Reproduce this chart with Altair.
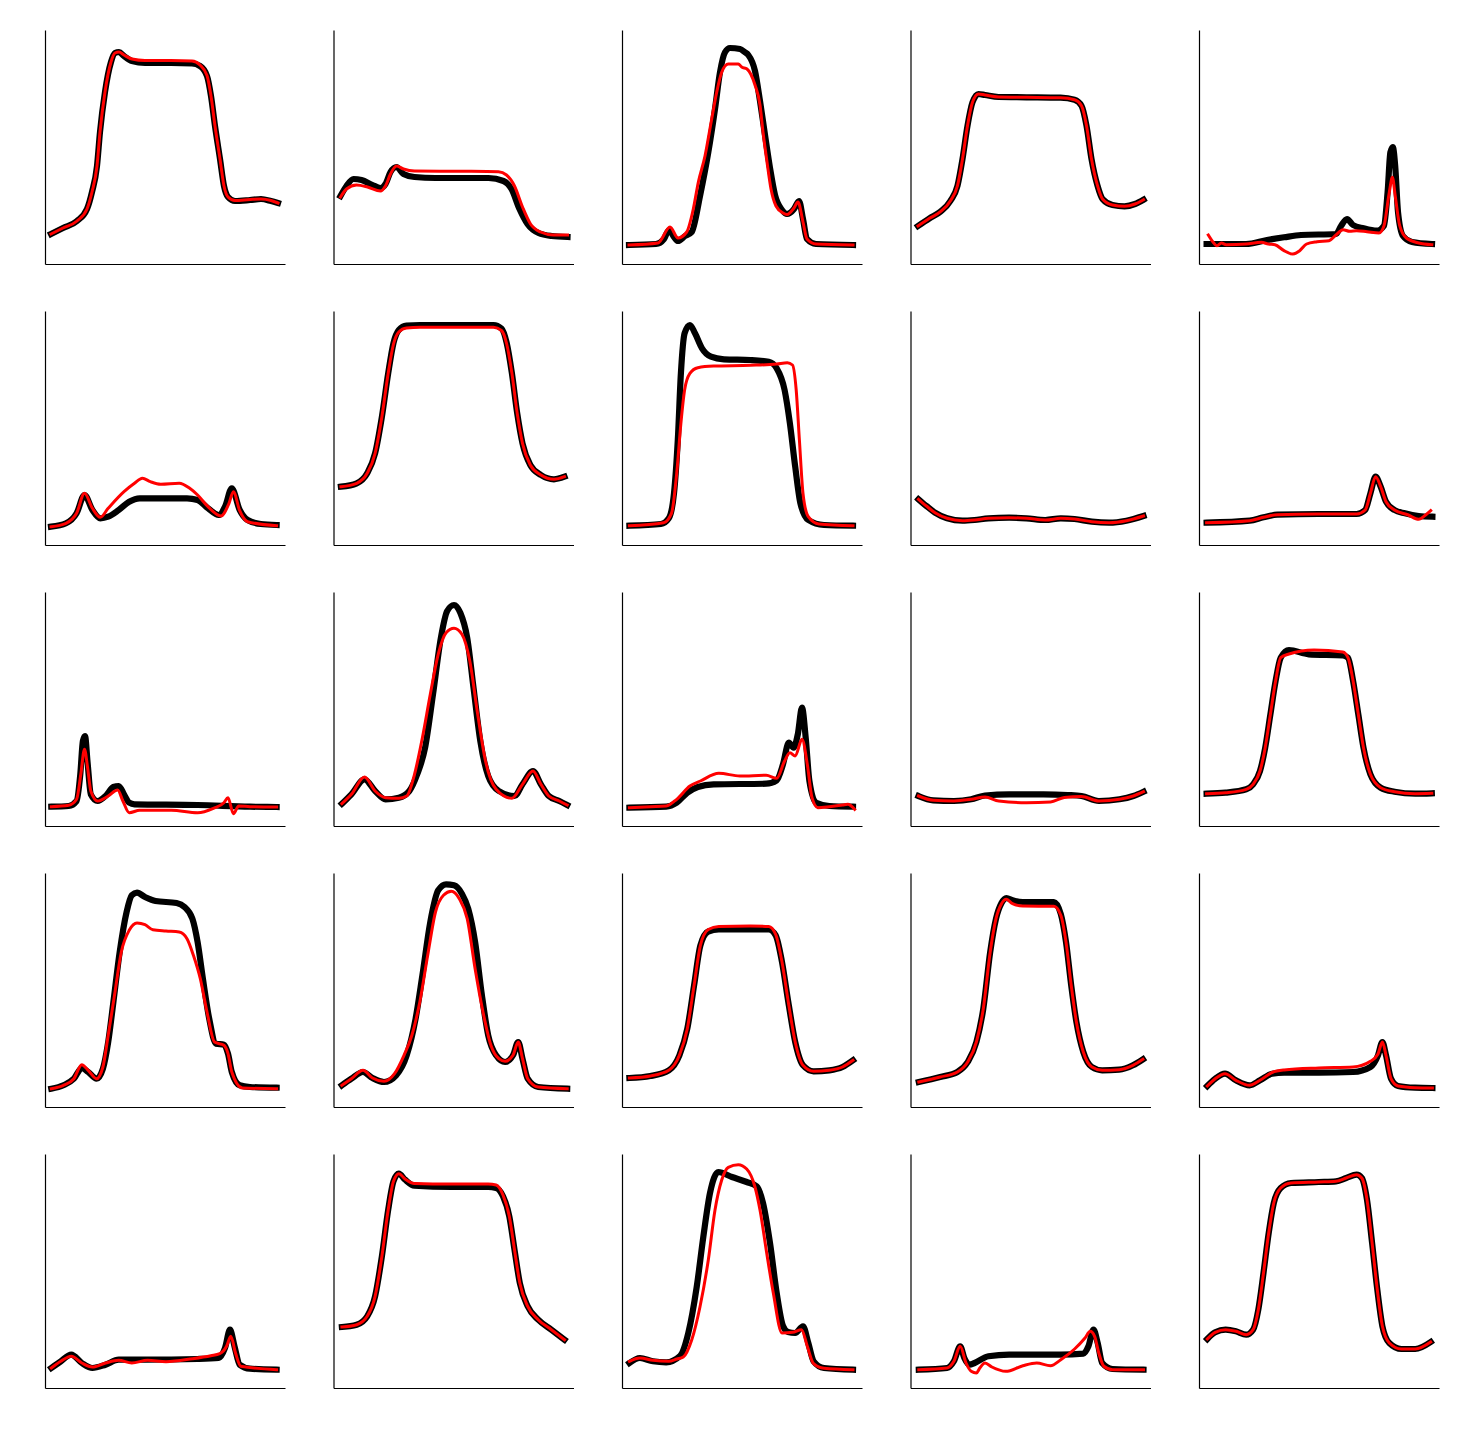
import altair as alt
import pandas as pd

# ---- Row 1 ----
p01_x = [6, 18, 32, 42, 47, 52, 55, 60, 66, 70, 74, 79, 87, 100, 126, 147, 155, 162, 166, 170, 175, 179, 183, 190, 205, 216, 226, 233]
p01_black = [30, 36, 43, 55, 72, 98, 132, 172, 202, 211, 212, 208, 203, 201, 201, 200.5, 198, 188, 168, 138, 105, 78, 67, 63, 64, 65, 63, 61]
p01_red = [30, 36, 43, 55, 72, 98, 132, 172, 202, 211, 212, 209, 205, 203.5, 203.5, 203, 199, 188.5, 168, 138, 105, 78, 67, 63.5, 64.5, 65, 63.5, 61]

p02_bx = [7, 13, 20, 28, 39, 47, 52, 57, 63, 70, 81, 102, 155, 170, 178, 186, 194, 205, 218, 234]
p02_by = [68, 78, 85, 84, 79, 76, 80, 92, 97, 90, 87, 86, 86, 83, 75, 55, 40, 31, 28, 27]
p02_rx = [7, 13, 23, 34, 47, 52, 57, 63, 70, 81, 128, 165, 173, 181, 189, 197, 207, 220, 234]
p02_ry = [67, 75, 79, 77, 73, 78, 90, 98, 95, 93, 92.7, 92.3, 89, 78, 57, 40, 32, 29, 29]

p03_bx = [7, 34, 42, 47, 52, 56, 63, 69.7, 78, 86.3, 93, 98, 103, 108, 118, 123, 126.3, 133, 138, 143, 148, 153, 160, 165, 172, 177, 181, 185, 194, 231]
p03_by = [19, 20, 25, 34, 27, 23, 28, 32, 68, 111.7, 155, 191.7, 211.7, 216, 215, 211.7, 209, 193, 163, 129, 96, 69, 54, 50, 55, 63, 45, 25, 20, 19]
p03_rx = [7, 36, 48, 56, 64.7, 71.3, 76.3, 83, 89.7, 94.7, 99.7, 106.3, 116.3, 119.7, 125, 133, 138, 141, 145, 149, 154, 161, 165, 172, 176, 181, 185, 194, 231]
p03_ry = [19, 21, 37, 26, 32, 55, 81.7, 108, 145, 171.7, 191.7, 200, 200, 197, 195, 179, 159, 132, 102, 75, 58, 51, 49.5, 56, 62, 42, 25, 20, 19]

p04_x = [7.5, 19, 30, 40, 47, 52, 57, 62, 68, 74.5, 88, 116, 150, 164, 171, 176, 181, 187, 192, 202, 214, 224.5, 233]
p04_y = [38, 45.7, 52.3, 63.3, 78.3, 105, 138.3, 161.7, 170, 169, 167, 166.7, 166.3, 164.3, 158.3, 138.3, 105, 78.3, 65, 59, 57.7, 60, 64.3]

p05_bx = [7.6, 47, 68, 85, 102, 137, 142, 148, 154, 164.5, 178, 185, 188.6, 191.4, 193.8, 196.2, 199, 204, 213, 233]
p05_by = [20, 20, 24, 26.7, 29, 30, 38, 45, 39, 35.7, 33.3, 38.3, 71.7, 111.7, 117, 98, 52, 28, 22, 20]
p05_rx = [9.3, 13.8, 18, 22.4, 27.2, 47, 62.4, 69.3, 76, 85, 93.8, 100.7, 107.6, 118, 130, 137, 144, 150.7, 157.6, 168, 180, 185, 190.3, 193.4, 196.2, 200.7, 207.6, 219.7, 232.8]
p05_ry = [29, 22.3, 18.3, 21, 19.3, 20, 21.7, 20, 19.3, 13.3, 10, 13.3, 20, 22.3, 23.3, 29, 34.3, 32.7, 33.3, 32.3, 31, 38.3, 71.7, 86.7, 68.3, 38.3, 25.7, 21, 19.3]

# ---- Row 2 ----
p06_bx = [6, 21, 31.6, 39.5, 47.4, 55.3, 63.2, 73.7, 84.2, 94.7, 142, 152.6, 163, 173.7, 180, 186.8, 194.7, 202.6, 215.8, 231.6]
p06_by = [18.3, 21.7, 31.7, 50, 35, 26.7, 28.3, 35, 43.3, 46.7, 46.7, 45, 36.7, 30, 38.3, 56.7, 35, 25, 21, 20]
p06_rx = [6, 21, 31.6, 39.5, 47.4, 55.3, 63.2, 79, 89.5, 97.4, 105.3, 115.8, 134.2, 144.7, 152.6, 163, 176, 184, 188.4, 194.7, 202.6, 231.6]
p06_ry = [18.3, 21.7, 31.7, 51.7, 36.7, 27.7, 36.7, 53.3, 61.7, 66.7, 63.3, 60.7, 61.7, 56.7, 50, 38.3, 29, 41.7, 53.3, 34.3, 23.3, 19.3]

p07_x = [7.4, 23.2, 33.7, 41.6, 48.4, 54.7, 60, 65.3, 73, 86.3, 160, 168, 173.2, 178.4, 183.7, 189, 196.8, 207.4, 220.5, 231]
p07_black = [58.3, 61.7, 71.7, 91.7, 128.3, 171.7, 202, 215, 219.5, 220, 220, 216.5, 202, 171.7, 131.7, 101.7, 80, 70, 65.7, 68.3]
p07_red = [58.3, 61.7, 71.7, 91.7, 128.3, 171.7, 201, 213, 217, 217.7, 217.7, 214.5, 201, 171.7, 131.7, 101.7, 80, 70, 65.7, 68.3]

p08_bx = [7.4, 39, 46.8, 52, 55.8, 58.9, 62.6, 67.9, 73, 80, 89, 102, 128.4, 146.8, 154.7, 162.6, 167.9, 173.2, 178.4, 186.3, 202, 231]
p08_by = [19.3, 21, 26.7, 51.7, 105, 171.7, 211.7, 220, 211.7, 196.7, 188.3, 185.7, 185, 183.3, 176.7, 155, 121.7, 78.3, 41.7, 25, 20, 19.3]
p08_rx = [7.4, 41.6, 49.5, 54.7, 58.9, 62.6, 67.9, 75.8, 91.6, 128.4, 154.7, 165.3, 170.5, 174.2, 177.4, 181, 186.3, 196.8, 231]
p08_ry = [19.3, 22.3, 31.7, 71.7, 121.7, 155, 171.7, 177.3, 179, 179.7, 181, 182.3, 180, 155, 105, 51.7, 28.3, 21, 19.3]

p09_x = [8, 15.9, 24.5, 36.6, 52, 64, 78, 98.6, 115.9, 134.8, 150.3, 164, 181.4, 198.6, 215.9, 233]
p09_y = [45.7, 39, 32.3, 26.7, 24.3, 25, 26.7, 27.3, 26.7, 25, 26.7, 26, 23.3, 22.3, 24.3, 29]

p10_bx = [7.6, 50.7, 64.5, 78.3, 119.7, 157.6, 166.2, 171.4, 176.6, 181.7, 187, 195.5, 205.9, 219.7, 233.4]
p10_by = [22.3, 24.3, 27.7, 30.3, 31, 31, 35, 51.7, 68.3, 58.3, 43.3, 35, 31.7, 29, 28.3]
p10_rx = [7.6, 50.7, 64.5, 78.3, 119.7, 157.6, 166.2, 171.4, 176.6, 181.7, 187, 195.5, 209.3, 219.7, 226.6, 231.7]
p10_ry = [22.3, 24.3, 27.7, 30.3, 31, 31, 35, 51.7, 68.3, 58.3, 43.3, 35, 30, 25.7, 30, 34.3]

# ---- Row 3 ----
p11_bx = [6.3, 23.7, 31.6, 35.3, 37.9, 40, 42.6, 45.8, 52.6, 60.5, 68.4, 73.7, 79, 84.2, 89.5, 152.6, 205, 231.6]
p11_by = [19.3, 20, 25, 51.7, 85, 90, 63.3, 31.7, 25, 30, 39, 40, 31.7, 23.3, 21.7, 21, 19.3, 19]
p11_rx = [6.3, 23.7, 31.6, 35.8, 39.5, 42.6, 45.8, 52.6, 63.2, 72.6, 77.9, 84.2, 94.7, 126.3, 152.6, 168.4, 178.9, 183, 188.4, 193.7, 205, 231.6]
p11_ry = [19.3, 20.7, 26.7, 51.7, 76.7, 58.3, 35, 25, 30, 36, 25, 13.3, 15.7, 15.7, 13.3, 17.7, 23.3, 28.3, 12.3, 20, 19.3, 19]

p12_bx = [8.4, 17.9, 31, 41.6, 52, 65.3, 75.8, 83.7, 91.6, 99.5, 107.4, 113.7, 120.5, 126.8, 133.7, 140, 146.8, 154.7, 165.3, 181, 189, 199.5, 207.4, 215.3, 225.8, 233.7]
p12_by = [22.3, 31.7, 46.7, 35, 26.7, 28.3, 35, 51.7, 78.3, 131.7, 188.3, 215, 221, 213.3, 188.3, 138.3, 85, 50, 35, 30, 41.7, 55, 41.7, 30, 25, 21]
p12_rx = [8.4, 17.9, 31, 41.6, 52, 65.3, 73.2, 81, 88.9, 96.8, 104.7, 112.6, 120.5, 128.4, 136.3, 144.2, 152, 162.6, 178.4, 189, 199.5, 207.4, 215.3, 225.8, 233.7]
p12_ry = [22.3, 31.7, 49, 35, 28.3, 27.7, 30, 51.7, 88.3, 131.7, 171.7, 193.3, 197.7, 191.7, 165, 111.7, 65, 36.7, 27.7, 41.7, 55, 41.7, 30, 25, 21]

p13_bx = [7.4, 44.2, 54.7, 65.3, 75.8, 91.6, 144.2, 154.7, 161, 166.8, 171.6, 175.8, 180, 183.7, 187.4, 194.2, 207.4, 231]
p13_by = [18.3, 19.3, 23.3, 33.3, 39, 41.7, 42.3, 45.7, 61.7, 83.3, 78.3, 91.7, 118.3, 88.3, 45, 23.3, 20, 19.3]
p13_rx = [7.4, 28.4, 44.2, 54.7, 67.9, 78.4, 96.8, 117.9, 144.2, 154.7, 162.6, 167.9, 173.2, 180, 185.3, 190, 195.8, 207.4, 220.5, 225.8, 232.6]
p13_ry = [18.3, 19.3, 20, 26.7, 40, 45, 52.7, 50, 50.7, 47.7, 65, 73.3, 70, 86.7, 61.7, 28.3, 18.3, 19.3, 21, 21.7, 16.7]

p14_bx = [8, 22.8, 43.4, 60.7, 74.5, 98.6, 133, 157.2, 171, 188.3, 209, 222.8, 233]
p14_by = [30, 25.7, 25, 26.7, 30.5, 31.7, 31.7, 31, 30, 25, 26.7, 30, 34.3]
p14_rx = [8, 22.8, 43.4, 60.7, 74.5, 88.3, 115.9, 140, 153.8, 171, 188.3, 209, 222.8, 233]
p14_ry = [30, 25.7, 25, 26.7, 29, 25, 23.3, 24, 28.5, 29.5, 25, 26.7, 30, 34.3]

p15_bx = [7.6, 26.6, 47.2, 54.1, 61, 66.2, 71.4, 76.6, 81.7, 90, 109.7, 144, 149, 154.1, 159.3, 164.5, 171.4, 181.7, 195.5, 216.2, 232.8]
p15_by = [32.3, 33.3, 36.7, 41.7, 55, 78.3, 111.7, 145, 168.3, 176, 171.7, 170.7, 168.3, 145, 111.7, 78.3, 51.7, 38.3, 34.3, 32.3, 32.7]
p15_rx = [7.6, 26.6, 47.2, 54.1, 61, 66.2, 71.4, 76.6, 81.7, 90, 115, 143.8, 149, 154.1, 159.3, 164.5, 171.4, 181.7, 195.5, 216.2, 232.8]
p15_ry = [32.3, 33.3, 36.7, 41.7, 55, 78.3, 111.7, 145, 168.3, 172, 176, 174, 168.3, 145, 111.7, 78.3, 51.7, 38.3, 34.3, 32.3, 32.7]

# ---- Row 4 ----
p16_bx = [6.3, 18.4, 28.9, 36.8, 43.2, 51.6, 57.9, 63.2, 68.4, 74.7, 81.6, 86.8, 92, 100, 110.5, 131.6, 139.5, 147.4, 152.6, 157.9, 164.2, 171, 179, 183, 186.8, 194.7, 205, 231.6]
p16_by = [18.3, 21.7, 28.3, 39, 35, 28.3, 38.3, 65, 105, 155, 195, 211.7, 214.3, 210, 206, 204, 200, 188.3, 165, 128.3, 88.3, 63.3, 62.3, 53.3, 35, 21.7, 20, 19.3]
p16_rx = [6.3, 18.4, 28.9, 36.8, 43.2, 51.6, 57.9, 63.2, 69.5, 76.3, 84.2, 92, 100, 107.9, 121, 134.2, 142, 148.4, 155.3, 162, 169.5, 179, 183, 186.8, 197.4, 231.6]
p16_ry = [18.3, 21.7, 28.3, 42.3, 36.7, 28.3, 40, 71.7, 111.7, 155, 176.7, 184, 182.3, 177.3, 176, 175, 168.3, 151.7, 128.3, 95, 65, 61.7, 53.3, 35, 19, 18.3]

p17_bx = [8.4, 17.9, 29.5, 39, 50.5, 62.6, 73.2, 82.1, 88.9, 96.8, 104.7, 112.6, 120.5, 128.4, 134.7, 141.6, 148.4, 154.7, 162.6, 171.6, 179.5, 184.7, 189, 194.2, 204.7, 233.7]
p17_by = [21.7, 28.3, 35, 29, 25, 31.7, 51.7, 88.3, 131.7, 185, 216.7, 222.7, 221.7, 213.3, 198.3, 165, 111.7, 71.7, 51.7, 45, 51.7, 65, 48.3, 28.3, 20, 18.3]
p17_rx = [8.4, 17.9, 29.5, 39, 50.5, 61, 70.5, 78.4, 86.3, 94.2, 102, 110, 117.9, 125.8, 133.7, 141.6, 149.5, 157.4, 165.3, 171.6, 179.5, 184.7, 189, 194.2, 204.7, 233.7]
p17_ry = [21.7, 28.3, 36.7, 29, 25.7, 33.3, 51.7, 71.7, 105, 151.7, 195, 211.7, 215.7, 208.3, 188.3, 138.3, 95, 61.7, 48.3, 45.7, 51.7, 65, 48.3, 28.3, 20, 18.3]

p18_x = [7.4, 28.4, 46.8, 57.4, 65.3, 72.1, 78.4, 86.3, 96.8, 128.4, 146.8, 153.7, 160, 166.3, 173.2, 181, 191.6, 207.4, 220.5, 231]
p18_black = [29, 31, 36.7, 51.7, 78.3, 121.7, 161.7, 175.5, 177.5, 177.7, 177.5, 171.7, 145, 105, 65, 41.7, 35.7, 36.7, 40, 46.7]
p18_red = [29, 31, 36.7, 51.7, 78.3, 121.7, 161.7, 177.5, 180.5, 181, 180.5, 172.5, 145, 105, 65, 41.7, 35.7, 36.7, 40, 46.7]

p19_x = [8.3, 29.7, 46.9, 57.2, 65.9, 72.8, 79.7, 85.5, 91, 95.9, 102, 112.4, 143.4, 150.3, 155.5, 160.7, 165.9, 172.8, 181.4, 191.7, 208.6, 222.4, 232.4]
p19_black = [25, 30, 35, 45, 65, 98.3, 155, 188.3, 204, 209, 206.7, 205, 205, 193, 165, 121.7, 85, 55, 40, 36.7, 37.3, 41.7, 47.7]
p19_red = [25, 30, 35, 45, 65, 98.3, 155, 188.3, 203.3, 207.7, 203.3, 201, 200.7, 191.7, 165, 121.7, 85, 55, 40, 36.7, 37.3, 41.7, 47.7]

p20_x = [8.3, 16.2, 26, 36.9, 50.7, 61, 73.1, 85.2, 119.7, 154.1, 171.4, 179, 183.4, 187, 192, 199, 216, 233.4]
p20_black = [21, 28.3, 33.3, 26.7, 21.7, 26.7, 33.3, 34.3, 34.3, 35, 40, 51.7, 65, 51.7, 28.3, 21, 19.3, 19]
p20_red = [21, 28.3, 33.3, 26.7, 21.7, 26.7, 34.5, 37, 39, 40, 45.7, 53, 65, 51.7, 28.3, 21, 19.3, 19]

# ---- Row 5 ----
p21_bx = [6.3, 15.8, 26.3, 36.8, 47.4, 60.5, 73.7, 100, 152.6, 173.7, 180, 185, 189.5, 194.7, 205, 231.6]
p21_by = [20, 26.7, 33.3, 25, 20, 23.3, 28.3, 28.3, 29, 30, 40, 58.3, 41.7, 23.3, 19.3, 18.3]
p21_rx = [6.3, 15.8, 26.3, 36.8, 47.4, 60.5, 73.7, 86.8, 102.6, 121, 147.4, 165.8, 174.7, 181.6, 185.8, 190.5, 195.8, 231.6]
p21_ry = [20, 26.7, 31.7, 25, 21, 25, 27.7, 25, 27.7, 26.3, 29.3, 32.3, 34.3, 41.7, 51.7, 35, 21.7, 18.3]

p22_x = [8.4, 23.2, 33.7, 41.6, 48.4, 54.7, 60, 65.3, 71.6, 81, 117.9, 154.7, 162.6, 169.5, 175.8, 181, 186.3, 194.2, 204.7, 217.9, 231]
p22_black = [61, 63.3, 71.7, 91.7, 131.7, 178.3, 206.7, 214.3, 208.3, 202.3, 201, 201, 200, 191.7, 171.7, 138.3, 105, 81.7, 68.3, 58.3, 48.3]
p22_red = [61, 63.3, 71.7, 91.7, 131.7, 178.3, 206.7, 214.3, 209, 204.5, 204, 204, 203, 193, 171.7, 138.3, 105, 81.7, 68.3, 58.3, 48.3]

p23_bx = [7.4, 17.9, 31, 44.2, 58, 66.3, 74.7, 81.3, 88, 96.3, 110, 124.7, 134.7, 141, 148, 154.7, 161, 166, 173.2, 181, 186.3, 191.6, 202, 231]
p23_by = [25, 30, 26.7, 25.7, 32, 55, 101, 151, 195, 216, 211, 206, 201.7, 185, 145, 95, 62, 56, 55, 61.7, 45, 26.7, 20, 18.3]
p23_rx = [7.4, 17.9, 31, 46.8, 55, 61.3, 69.7, 78, 86.3, 93, 99.7, 106.3, 116.3, 124.7, 133, 138, 144.7, 151.3, 160, 170.5, 179.5, 185.3, 191.6, 202, 231]
p23_ry = [26.7, 30, 27.7, 26.7, 29, 31, 48, 81.3, 128, 178, 208, 220.7, 223.3, 219, 201, 178, 135, 95, 55, 55.7, 58.3, 41.7, 24.3, 19.7, 18.3]

p24_bx = [8.3, 36.6, 43.4, 49.7, 53.8, 59, 64.1, 77.9, 98.6, 150.3, 172.8, 177.9, 183, 187.2, 191.7, 202, 233]
p24_by = [18.3, 20, 26.7, 41.7, 30, 23.3, 25, 31.7, 33.3, 33.3, 34.3, 41.7, 58.3, 45, 25, 19, 18.3]
p24_rx = [8.3, 36.6, 43.4, 49.7, 55.5, 60.7, 65.9, 69.3, 74.5, 81.4, 95.2, 112.4, 126.2, 140, 150.3, 164.1, 174.5, 179.7, 184.1, 188.3, 193.4, 202, 233]
p24_ry = [18.3, 20, 26.7, 41.7, 25, 16.7, 15, 20, 25, 21, 16.7, 22.3, 25, 22.3, 28.3, 39, 50, 56.7, 51.7, 35, 21.7, 18.3, 18.3]

p25_x = [8.3, 16.2, 26.6, 36.9, 47.2, 54.1, 59.3, 64.5, 69.7, 74.8, 81.7, 92, 119.7, 137, 147.2, 157.6, 162.8, 168, 173.1, 178.3, 183.4, 190.3, 202.4, 216.2, 231.7]
p25_y = [49, 55.7, 58.3, 56.7, 53.3, 58.3, 78.3, 115, 155, 185, 200, 205, 206, 206.7, 210, 213.3, 210, 188.3, 145, 98.3, 61.7, 45, 39, 39, 46]

PANELS = [
    (p01_x, p01_black, p01_x, p01_red),
    (p02_bx, p02_by, p02_rx, p02_ry),
    (p03_bx, p03_by, p03_rx, p03_ry),
    (p04_x, p04_y, p04_x, p04_y),
    (p05_bx, p05_by, p05_rx, p05_ry),
    (p06_bx, p06_by, p06_rx, p06_ry),
    (p07_x, p07_black, p07_x, p07_red),
    (p08_bx, p08_by, p08_rx, p08_ry),
    (p09_x, p09_y, p09_x, p09_y),
    (p10_bx, p10_by, p10_rx, p10_ry),
    (p11_bx, p11_by, p11_rx, p11_ry),
    (p12_bx, p12_by, p12_rx, p12_ry),
    (p13_bx, p13_by, p13_rx, p13_ry),
    (p14_bx, p14_by, p14_rx, p14_ry),
    (p15_bx, p15_by, p15_rx, p15_ry),
    (p16_bx, p16_by, p16_rx, p16_ry),
    (p17_bx, p17_by, p17_rx, p17_ry),
    (p18_x, p18_black, p18_x, p18_red),
    (p19_x, p19_black, p19_x, p19_red),
    (p20_x, p20_black, p20_x, p20_red),
    (p21_bx, p21_by, p21_rx, p21_ry),
    (p22_x, p22_black, p22_x, p22_red),
    (p23_bx, p23_by, p23_rx, p23_ry),
    (p24_bx, p24_by, p24_rx, p24_ry),
    (p25_x, p25_y, p25_x, p25_y),
]

X_DOMAIN = [0, 240]
Y_DOMAIN = [0, 234]


def make_panel(bx, by, rx, ry):
    df = pd.DataFrame({
        "x": list(bx) + list(rx),
        "y": list(by) + list(ry),
        "s": ["black"] * len(bx) + ["red"] * len(rx),
    })
    ax = alt.Axis(title=None, ticks=False, labels=False, grid=False,
                  domainColor="black", domainWidth=1.2, minExtent=0)
    xenc = alt.X("x:Q", scale=alt.Scale(domain=X_DOMAIN, nice=False, zero=False), axis=ax)
    yenc = alt.Y("y:Q", scale=alt.Scale(domain=Y_DOMAIN, nice=False, zero=False), axis=ax)
    base = alt.Chart(df)
    black = base.transform_filter(alt.datum.s == "black").mark_line(
        color="black", strokeWidth=6.2, interpolate="monotone",
        strokeCap="square", strokeJoin="round"
    ).encode(x=xenc, y=yenc)
    red = base.transform_filter(alt.datum.s == "red").mark_line(
        color="#ff0000", strokeWidth=3, interpolate="monotone",
        strokeCap="square", strokeJoin="round"
    ).encode(x=xenc, y=yenc)
    return alt.layer(black, red).properties(width=240, height=234)


panels = [make_panel(*p) for p in PANELS]
chart = alt.concat(
    *panels, columns=5, spacing={"row": 47, "column": 48.5}, bounds="flush"
).properties(
    padding={"left": 37, "top": 22, "right": 5, "bottom": 5},
    background="white",
).configure_view(strokeWidth=0)

chart.save("out.html", embed_options={"renderer": "svg", "actions": False})
